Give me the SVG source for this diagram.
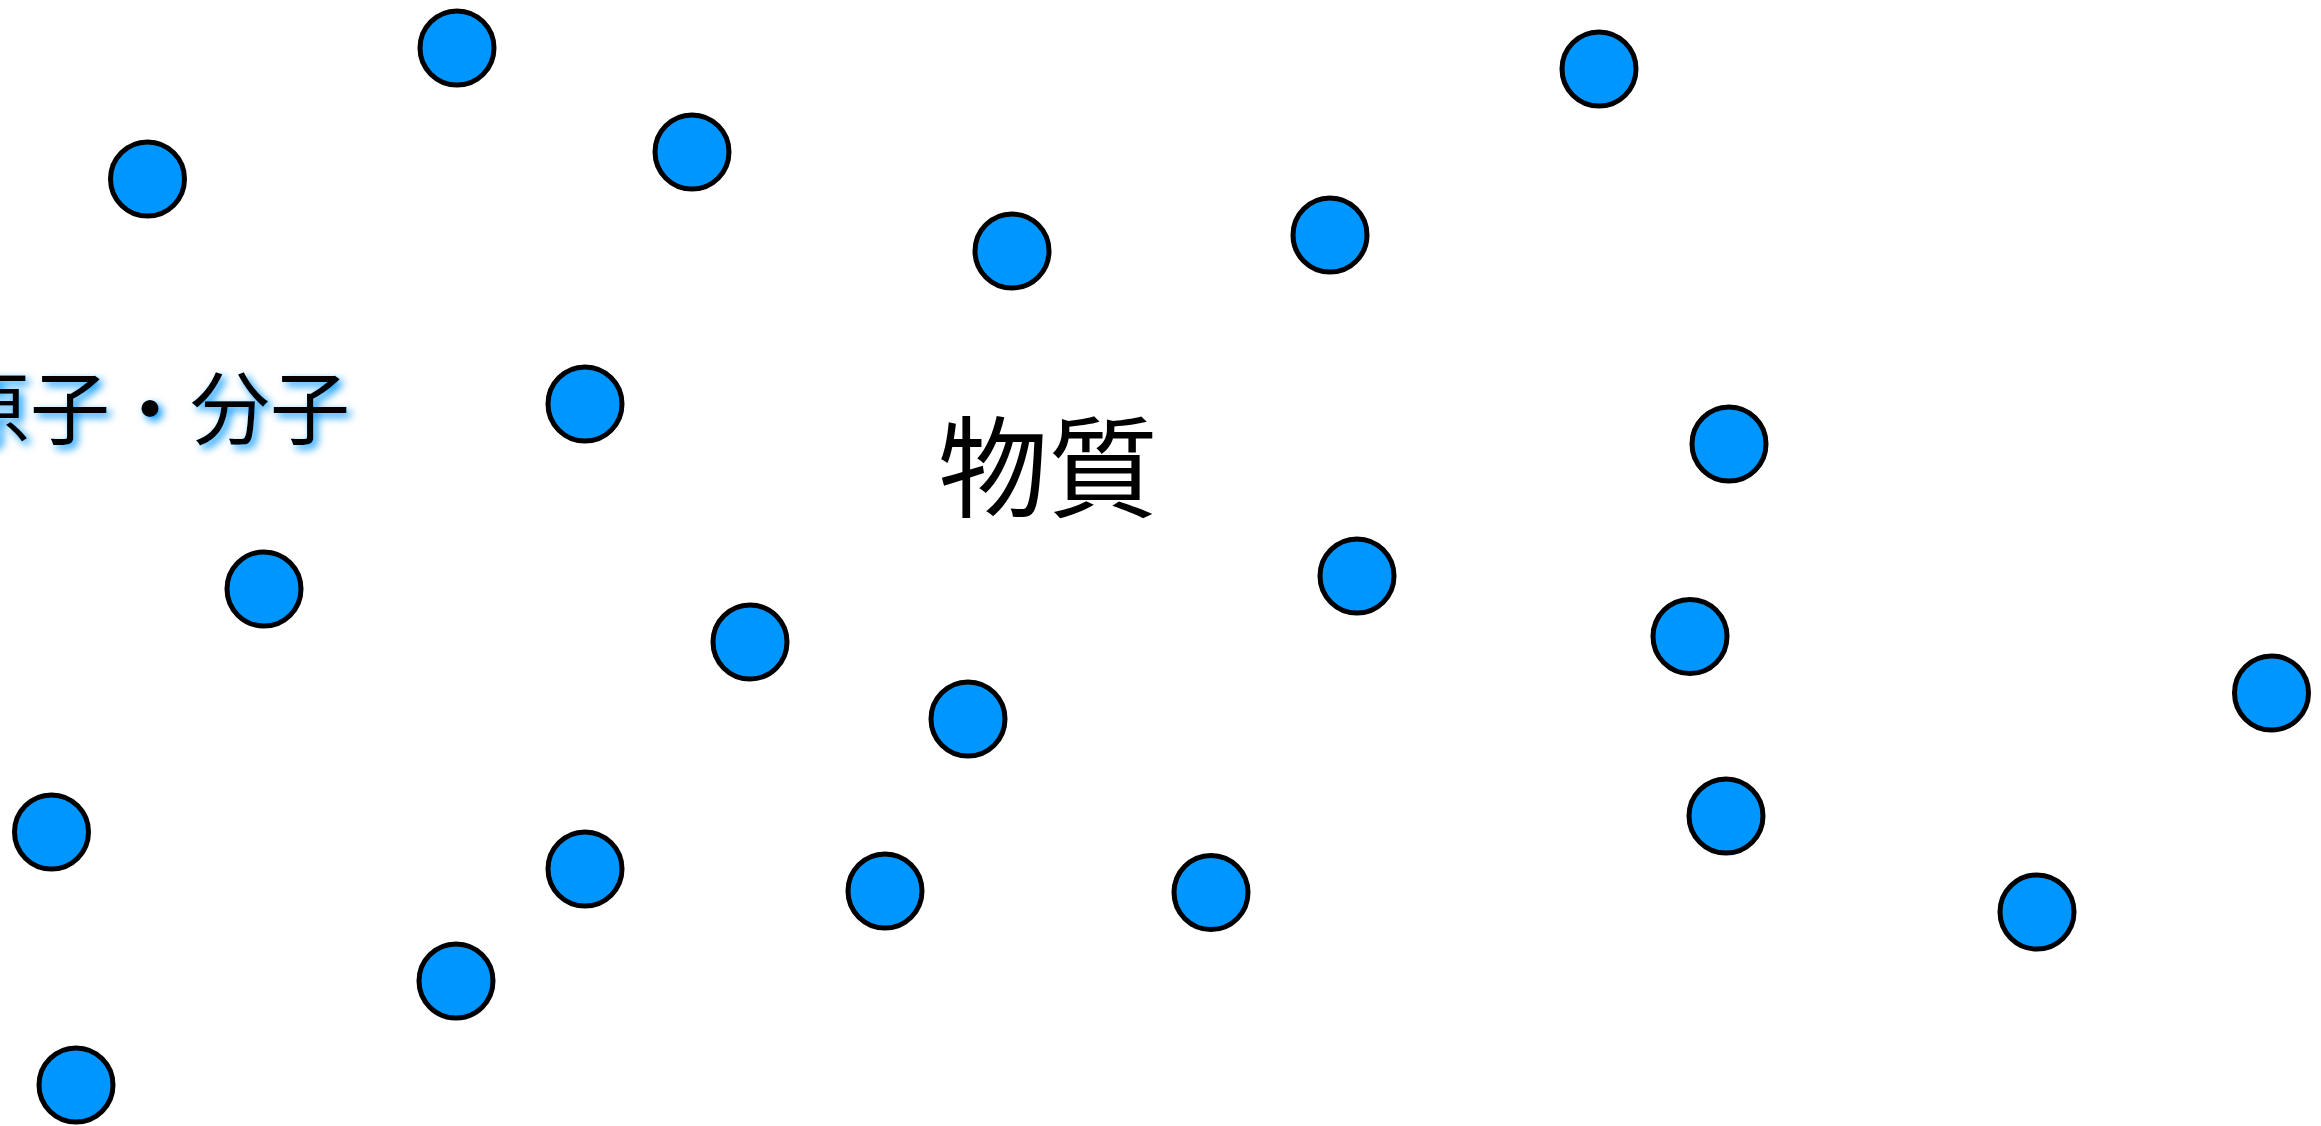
<svg xmlns="http://www.w3.org/2000/svg" width="2321" height="1126" viewBox="0 0 2321 1126">
<defs>
<style>
.p{fill:#0096ff;stroke:#000;stroke-width:5}
.t{font-family:"Noto Sans CJK JP","Noto Sans CJK SC",sans-serif;fill:#000}
</style>
<filter id="glow" x="-20%" y="-40%" width="140%" height="180%">
<feGaussianBlur in="SourceAlpha" stdDeviation="4" result="b"/>
<feOffset in="b" dx="4" dy="4" result="o"/>
<feFlood flood-color="#0096ff"/>
<feComposite in2="o" operator="in" result="s"/>
<feMerge><feMergeNode in="s"/><feMergeNode in="SourceGraphic"/></feMerge>
</filter>
</defs>
<rect width="2321" height="1126" fill="#fff"/>
<g id="particles">
<circle id="p1" class="p" cx="457" cy="48" r="37"/>
<circle id="p2" class="p" cx="147.5" cy="179" r="37"/>
<circle id="p3" class="p" cx="692" cy="152" r="37"/>
<circle id="p4" class="p" cx="1012" cy="251" r="37"/>
<circle id="p5" class="p" cx="1330" cy="235" r="37"/>
<circle id="p6" class="p" cx="1599" cy="69" r="37"/>
<circle id="p7" class="p" cx="585" cy="404" r="37"/>
<circle id="p8" class="p" cx="1729" cy="444" r="37"/>
<circle id="p9" class="p" cx="264" cy="589" r="37"/>
<circle id="p10" class="p" cx="1357" cy="576" r="37"/>
<circle id="p11" class="p" cx="750" cy="642" r="37"/>
<circle id="p12" class="p" cx="1690" cy="636.5" r="37"/>
<circle id="p13" class="p" cx="968" cy="719" r="37"/>
<circle id="p14" class="p" cx="2271.5" cy="693" r="37"/>
<circle id="p15" class="p" cx="51.5" cy="832" r="37"/>
<circle id="p16" class="p" cx="585" cy="869" r="37"/>
<circle id="p17" class="p" cx="885" cy="891" r="37"/>
<circle id="p18" class="p" cx="1211" cy="892.5" r="37"/>
<circle id="p19" class="p" cx="1726" cy="816" r="37"/>
<circle id="p20" class="p" cx="2037" cy="912" r="37"/>
<circle id="p21" class="p" cx="456" cy="981" r="37"/>
<circle id="p22" class="p" cx="76" cy="1085" r="37"/>
</g>
<g id="label-atoms">
<text class="t" x="-50" y="438" font-size="80" filter="url(#glow)">原子・分子</text>
</g>
<g id="label-matter">
<text class="t" x="938" y="509" font-size="110">物質</text>
</g>
</svg>
